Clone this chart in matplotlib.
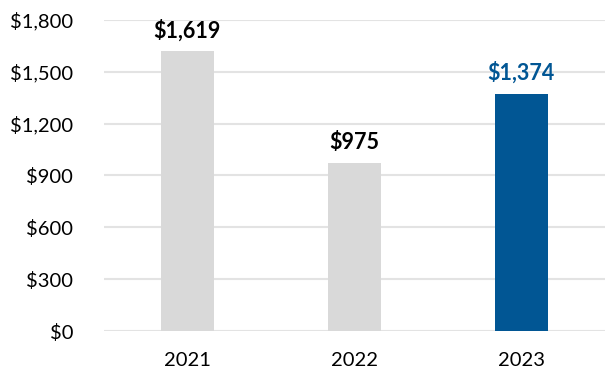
import matplotlib.pyplot as plt
from matplotlib.ticker import FuncFormatter

years = ['2021', '2022', '2023']
values = [1619, 975, 1374]
bar_colors = ['#d9d9d9', '#d9d9d9', '#015694']
label_colors = ['black', 'black', '#015694']

plt.rcParams['font.family'] = ['Lato', 'DejaVu Sans']

fig = plt.figure(figsize=(6.14, 3.84), dpi=100)
ax = fig.add_axes([0.169, 0.138, 0.816, 0.81])

x = range(len(years))
ax.bar(x, values, width=0.32, color=bar_colors, zorder=2)

for i, v in enumerate(values):
    ax.text(i, v + 55, f'${v:,}', ha='center', va='bottom',
            fontsize=15.5, fontweight='bold', color=label_colors[i])

ax.set_xlim(-0.5, 2.5)
ax.set_ylim(0, 1800)
ax.set_yticks(range(0, 1801, 300))
ax.yaxis.set_major_formatter(FuncFormatter(lambda v, p: f'${v:,.0f}'))
ax.set_xticks(list(x))
ax.set_xticklabels(years)

ax.grid(axis='y', color='#e3e3e3', linewidth=1.5, zorder=0)
ax.tick_params(axis='y', length=0, pad=22, labelsize=14.5)
ax.tick_params(axis='x', length=0, pad=15, labelsize=14.5)
for s in ax.spines.values():
    s.set_visible(False)

fig.savefig('out.png', dpi=100)
